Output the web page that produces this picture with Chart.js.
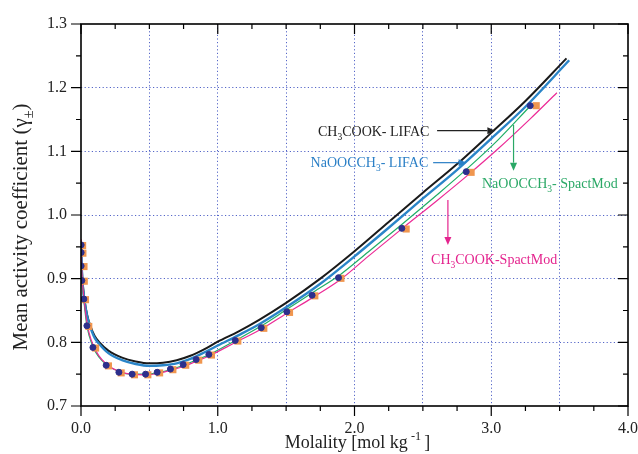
<!DOCTYPE html>
<html>
<head>
<meta charset="utf-8">
<script src="https://cdn.jsdelivr.net/npm/chart.js@4.4.1/dist/chart.umd.min.js"></script>
<style>
body { margin: 0; background: #fff; }
canvas { display: block; }
</style>
</head>
<body>
<canvas id="chartGamma" width="638" height="454"></canvas>
<script>
// tick labels
var xTickLabels = ['0.0', '1.0', '2.0', '3.0', '4.0'];
var yTickLabels = ['0.7', '0.8', '0.9', '1.0', '1.1', '1.2', '1.3'];

var dotsX = [0.001, 0.001, 0.001, 0.006, 0.021, 0.043, 0.087, 0.184, 0.277, 0.374, 0.472, 0.557, 0.654, 0.747, 0.842, 0.935, 1.128, 1.318, 1.505, 1.690, 1.883, 2.346, 2.817, 3.285];
var dotsY = [0.953, 0.941, 0.920, 0.897, 0.868, 0.826, 0.792, 0.764, 0.753, 0.750, 0.750, 0.753, 0.758, 0.765, 0.773, 0.781, 0.803, 0.823, 0.848, 0.874, 0.9015, 0.979, 1.068, 1.1717];
var squaresX = [0.012, 0.014, 0.022, 0.024, 0.033, 0.057, 0.107, 0.201, 0.294, 0.391, 0.489, 0.575, 0.672, 0.766, 0.861, 0.954, 1.147, 1.337, 1.525, 1.710, 1.901, 2.378, 2.853, 3.329];
var squaresY = [0.952, 0.940, 0.919, 0.896, 0.867, 0.825, 0.791, 0.763, 0.752, 0.749, 0.749, 0.752, 0.757, 0.764, 0.772, 0.780, 0.802, 0.822, 0.847, 0.873, 0.9005, 0.978, 1.067, 1.1717];

// CH3COOK - LIFAC
var lifacKX = [0.001, 0.004, 0.01, 0.025, 0.045, 0.065, 0.1, 0.135, 0.2, 0.3, 0.4, 0.5, 0.6, 0.7, 0.8, 0.9, 1.0, 1.15, 1.3, 1.5, 1.75, 2.0, 2.25, 2.5, 2.75, 3.0, 3.25, 3.55];
var lifacKY = [0.958, 0.930, 0.900, 0.868, 0.843, 0.828, 0.810, 0.800, 0.787, 0.776, 0.770, 0.767, 0.768, 0.772, 0.779, 0.789, 0.801, 0.817, 0.835, 0.862, 0.900, 0.943, 0.989, 1.035, 1.080, 1.129, 1.179, 1.246];

// NaOOCCH3 - LIFAC
var lifacNaX = [0.001, 0.004, 0.01, 0.025, 0.045, 0.065, 0.1, 0.135, 0.2, 0.3, 0.4, 0.5, 0.6, 0.7, 0.8, 0.9, 1.0, 1.15, 1.3, 1.5, 1.75, 2.0, 2.25, 2.5, 2.75, 3.0, 3.25, 3.57];
var lifacNaY = [0.957, 0.928, 0.898, 0.866, 0.841, 0.826, 0.807, 0.797, 0.783, 0.772, 0.766, 0.763, 0.764, 0.767, 0.774, 0.784, 0.795, 0.811, 0.828, 0.855, 0.892, 0.935, 0.980, 1.026, 1.071, 1.120, 1.170, 1.243];

// NaOOCCH3 - SpactMod
var spactNaX = [0.001, 0.005, 0.01, 0.02, 0.04, 0.06, 0.09, 0.13, 0.185, 0.28, 0.37, 0.47, 0.56, 0.65, 0.75, 0.84, 0.94, 1.13, 1.32, 1.5, 1.7, 1.9, 2.1, 2.35, 2.6, 2.82, 3.05, 3.28];
var spactNaY = [0.955, 0.915, 0.893, 0.868, 0.830, 0.810, 0.792, 0.777, 0.765, 0.754, 0.750, 0.750, 0.752, 0.757, 0.764, 0.772, 0.781, 0.803, 0.826, 0.851, 0.879, 0.907, 0.942, 0.986, 1.031, 1.072, 1.118, 1.170];

// CH3COOK - SpactMod
var spactKX = [0.001, 0.005, 0.01, 0.02, 0.04, 0.06, 0.09, 0.13, 0.185, 0.28, 0.37, 0.47, 0.56, 0.65, 0.75, 0.84, 0.94, 1.13, 1.32, 1.5, 1.7, 1.9, 2.1, 2.35, 2.6, 2.82, 3.05, 3.285, 3.48];
var spactKY = [0.962, 0.920, 0.897, 0.872, 0.836, 0.814, 0.795, 0.779, 0.766, 0.754, 0.750, 0.749, 0.751, 0.756, 0.762, 0.770, 0.779, 0.800, 0.821, 0.845, 0.871, 0.899, 0.935, 0.979, 1.022, 1.061, 1.104, 1.151, 1.192];

function toPoints(xs, ys) {
    return xs.map(function(x, i) { return { x: x, y: ys[i] }; });
}

var serif = '"Liberation Serif", "Times New Roman", serif';
var gridBlue = '#5566c8';

// labels with arrows, placed in data coordinates
var notes = [
    { parts: [['CH'], ['3', 'sub'], ['COOK- LIFAC']], color: '#222222', x: 1.733, y: 1.1324, arrow: [2.604, 1.1324, 3.03, 1.1324] },
    { parts: [['NaOOCCH'], ['3', 'sub'], ['- LIFAC']], color: '#2a7fc6', x: 1.679, y: 1.0833, arrow: [2.575, 1.0822, 2.82, 1.0822] },
    { parts: [['NaOOCCH'], ['3', 'sub'], ['- SpactMod']], color: '#2aa866', x: 2.932, y: 1.0507, arrow: [3.163, 1.1414, 3.163, 1.0696] },
    { parts: [['CH'], ['3', 'sub'], ['COOK-SpactMod']], color: '#e4248e', x: 2.56, y: 0.9309, arrow: [2.683, 1.0236, 2.683, 0.9529] }
];

function drawParts(ctx, parts, x, y, size) {
    parts.forEach(function(p) {
        var small = p[1] === 'sub' || p[1] === 'sup';
        ctx.font = (small ? size * 0.68 : size) + 'px ' + serif;
        var dy = p[1] === 'sub' ? size * 0.3 : (p[1] === 'sup' ? -size * 0.42 : 0);
        ctx.fillText(p[0], x, y + dy);
        x += ctx.measureText(p[0]).width;
    });
    return x;
}

function partsWidth(ctx, parts, size) {
    var w = 0;
    parts.forEach(function(p) {
        var small = p[1] === 'sub' || p[1] === 'sup';
        ctx.font = (small ? size * 0.68 : size) + 'px ' + serif;
        w += ctx.measureText(p[0]).width;
    });
    return w;
}

function drawArrow(ctx, x1, y1, x2, y2, color) {
    var ang = Math.atan2(y2 - y1, x2 - x1), len = 8, half = 3.5;
    ctx.strokeStyle = color;
    ctx.fillStyle = color;
    ctx.lineWidth = 1.2;
    ctx.beginPath();
    ctx.moveTo(x1, y1);
    ctx.lineTo(x2 - Math.cos(ang) * len, y2 - Math.sin(ang) * len);
    ctx.stroke();
    ctx.beginPath();
    ctx.moveTo(x2, y2);
    ctx.lineTo(x2 - Math.cos(ang) * len - Math.sin(ang) * half, y2 - Math.sin(ang) * len + Math.cos(ang) * half);
    ctx.lineTo(x2 - Math.cos(ang) * len + Math.sin(ang) * half, y2 - Math.sin(ang) * len - Math.cos(ang) * half);
    ctx.closePath();
    ctx.fill();
}

var frameAndText = {
    id: 'frameAndText',
    afterDatasetsDraw: function(chart) {
        var ctx = chart.ctx, a = chart.chartArea;
        var sx = chart.scales.x, sy = chart.scales.y;
        ctx.save();

        // frame
        ctx.strokeStyle = '#000';
        ctx.lineWidth = 1.6;
        ctx.strokeRect(a.left, a.top, a.right - a.left, a.bottom - a.top);

        // major + minor ticks on all four sides
        ctx.lineWidth = 1.2;
        ctx.beginPath();
        for (var i = 0; i <= 16; i++) {
            var px = sx.getPixelForValue(i * 0.25), lx = (i % 4 === 0) ? 10 : 5;
            ctx.moveTo(px, a.bottom); ctx.lineTo(px, a.bottom + lx);
            ctx.moveTo(px, a.top); ctx.lineTo(px, a.top + lx);
        }
        for (var j = 0; j <= 12; j++) {
            var py = sy.getPixelForValue(0.7 + j * 0.05), ly = (j % 2 === 0) ? 10 : 5;
            ctx.moveTo(a.left - ly, py); ctx.lineTo(a.left, py);
            ctx.moveTo(a.right, py); ctx.lineTo(a.right - ly, py);
        }
        ctx.stroke();

        // annotations
        ctx.textAlign = 'left';
        ctx.textBaseline = 'alphabetic';
        notes.forEach(function(n) {
            ctx.fillStyle = n.color;
            drawParts(ctx, n.parts, sx.getPixelForValue(n.x), sy.getPixelForValue(n.y) + 4.8, 14);
            drawArrow(ctx, sx.getPixelForValue(n.arrow[0]), sy.getPixelForValue(n.arrow[1]),
                sx.getPixelForValue(n.arrow[2]), sy.getPixelForValue(n.arrow[3]), n.color);
        });

        // x axis title
        ctx.fillStyle = '#222';
        var xt = [['Molality [mol kg'], [' -1 ', 'sup'], [']']];
        var cx = (a.left + a.right) / 2 + 3;
        drawParts(ctx, xt, cx - partsWidth(ctx, xt, 18) / 2, 448, 18);

        // y axis title, rotated
        var yt = [['Mean activity coefficient (\u03b3'], ['\u00b1', 'sub'], [')']];
        ctx.translate(27, (a.top + a.bottom) / 2 + 12);
        ctx.rotate(-Math.PI / 2);
        drawParts(ctx, yt, -partsWidth(ctx, yt, 21) / 2, 0, 21);

        ctx.restore();
    }
};

var ctx = document.getElementById('chartGamma');
var myChart = new Chart(ctx, {
    type: 'scatter',
    data: {
        datasets: [{
            label: 'exp. dots',
            data: toPoints(dotsX, dotsY),
            pointStyle: 'circle',
            pointRadius: 3,
            backgroundColor: '#2c2f8c',
            borderColor: '#2c2f8c',
            borderWidth: 1
        }, {
            label: 'exp. squares',
            data: toPoints(squaresX, squaresY),
            pointStyle: 'rect',
            pointRadius: 5,
            backgroundColor: '#f0964f',
            borderColor: '#f0964f',
            borderWidth: 0
        }, {
            label: 'CH3COOK-SpactMod',
            data: toPoints(spactKX, spactKY),
            showLine: true,
            pointRadius: 0,
            borderColor: '#ec2a96',
            borderWidth: 1.2,
            cubicInterpolationMode: 'monotone'
        }, {
            label: 'NaOOCCH3-SpactMod',
            data: toPoints(spactNaX, spactNaY),
            showLine: true,
            pointRadius: 0,
            borderColor: '#1fae66',
            borderWidth: 1.2,
            cubicInterpolationMode: 'monotone'
        }, {
            label: 'NaOOCCH3-LIFAC',
            data: toPoints(lifacNaX, lifacNaY),
            showLine: true,
            pointRadius: 0,
            borderColor: '#2a85c8',
            borderWidth: 2.4,
            cubicInterpolationMode: 'monotone'
        }, {
            label: 'CH3COOK-LIFAC',
            data: toPoints(lifacKX, lifacKY),
            showLine: true,
            pointRadius: 0,
            borderColor: '#1a1a1a',
            borderWidth: 2,
            cubicInterpolationMode: 'monotone'
        }]
    },
    options: {
        responsive: false,
        animation: false,
        layout: { padding: { top: 24, right: 10, left: 0, bottom: 0 } },
        plugins: {
            legend: { display: false },
            tooltip: { enabled: false }
        },
        scales: {
            x: {
                type: 'linear',
                min: 0,
                max: 4,
                afterFit: function(scale) {
                    scale.height = 48;
                    scale.paddingLeft = 0;
                    scale.paddingRight = 0;
                },
                border: { display: false, dash: [1.2, 2.4] },
                grid: {
                    drawTicks: false,
                    color: function(c) {
                        return (c.tick && c.tick.value > 0 && c.tick.value < 4) ? gridBlue : 'rgba(0,0,0,0)';
                    },
                    lineWidth: 1
                },
                ticks: {
                    stepSize: 0.5,
                    autoSkip: false,
                    maxRotation: 0,
                    padding: 13,
                    color: '#222',
                    font: { family: serif, size: 16 },
                    callback: function(value) {
                        return Number.isInteger(value) ? xTickLabels[value] : '';
                    }
                }
            },
            y: {
                type: 'linear',
                min: 0.7,
                max: 1.3,
                afterFit: function(scale) {
                    scale.width = 81;
                    scale.paddingTop = 0;
                    scale.paddingBottom = 0;
                },
                border: { display: false, dash: [1.2, 2.4] },
                grid: {
                    drawTicks: false,
                    color: function(c) {
                        return (c.index > 0 && c.index < 6) ? gridBlue : 'rgba(0,0,0,0)';
                    },
                    lineWidth: 1
                },
                ticks: {
                    stepSize: 0.1,
                    padding: 14,
                    color: '#222',
                    font: { family: serif, size: 16 },
                    callback: function(value) {
                        return yTickLabels[Math.round((value - 0.7) * 10)];
                    }
                }
            }
        }
    },
    plugins: [frameAndText]
});
</script>
</body>
</html>
